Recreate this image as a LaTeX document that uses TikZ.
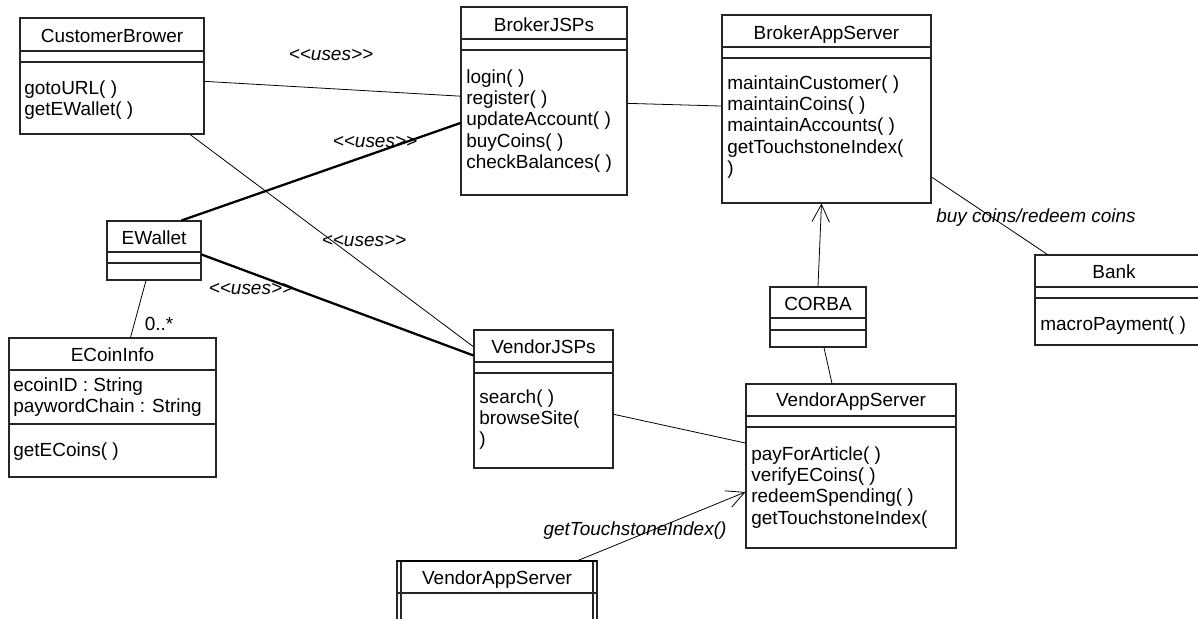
\documentclass[tikz,border=0pt]{standalone}
\usepackage{fontspec}
\setmainfont{Liberation Sans}
\usetikzlibrary{fit,calc,arrows.meta}

\begin{document}
\begin{tikzpicture}[x=0.02cm,y=-0.02cm,
  font=\fontsize{10.8}{12.1}\selectfont,
  cls/.style={draw=black!85, line width=0.6pt, inner sep=0pt},
  compline/.style={draw=black!85, line width=0.6pt},
  clsname/.style={anchor=base, inner sep=0pt},
  ops/.style={anchor=base west, align=left, inner sep=0pt},
  lbl/.style={font=\fontsize{10.8}{12.1}\selectfont\itshape, inner sep=0pt},
  link/.style={line width=0.45pt},
  uses/.style={line width=1.3pt},
  dep/.style={line width=0.45pt, -{Straight Barb[length=10pt,width=10pt]}}]

  \useasboundingbox (0,0) rectangle (1198,619);
  \clip (0,0) rectangle (1198,619);

  % CustomerBrower (ops placed at the baseline of their last line)
  \node[cls, fit={(20,18) (204,134)}] (cb) {};
  \draw[compline] (20,51) -- (204,51) (20,62) -- (204,62);
  \node[clsname] at (112,42) {CustomerBrower};
  \node[ops] at (24,115.3) {gotoURL( )\\getEWallet( )};

  % BrokerJSPs
  \node[cls, fit={(461,7) (627,195)}] (bjsp) {};
  \draw[compline] (461,39) -- (627,39) (461,50) -- (627,50);
  \node[clsname] at (544,31) {BrokerJSPs};
  \node[ops] at (466,168.4) {login( )\\register( )\\updateAccount( )\\buyCoins( )\\checkBalances( )};

  % BrokerAppServer
  \node[cls, fit={(722,15) (931,203)}] (bas) {};
  \draw[compline] (722,47) -- (931,47) (722,58) -- (931,58);
  \node[clsname] at (826.5,39) {BrokerAppServer};
  \node[ops] at (727,174.4) {maintainCustomer( )\\maintainCoins( )\\maintainAccounts( )\\getTouchstoneIndex(\\)};

  % Bank (runs off the right edge)
  \node[cls, fit={(1035,255) (1210,345)}] (bank) {};
  \draw[compline] (1035,287) -- (1210,287) (1035,298) -- (1210,298);
  \node[clsname] at (1114,278) {Bank};
  \node[ops] at (1040,330) {macroPayment( )};

  % CORBA
  \node[cls, fit={(770,287) (866,347)}] (corba) {};
  \draw[compline] (770,318) -- (866,318) (770,330) -- (866,330);
  \node[clsname] at (818,310) {CORBA};

  % EWallet
  \node[cls, fit={(107,221) (201,280)}] (ewallet) {};
  \draw[compline] (107,252) -- (201,252) (107,263) -- (201,263);
  \node[clsname] at (154,244) {EWallet};

  % ECoinInfo
  \node[cls, fit={(9,338) (216,477)}] (ecoin) {};
  \draw[compline] (9,370) -- (216,370) (9,424) -- (216,424);
  \node[clsname] at (112.5,361) {ECoinInfo};
  \node[ops] at (13,412.3) {ecoinID : String\\paywordChain : String};
  \node[ops] at (13,456) {getECoins( )};

  % VendorJSPs
  \node[cls, fit={(474,330) (613,468)}] (vjsp) {};
  \draw[compline] (474,362) -- (613,362) (474,373) -- (613,373);
  \node[clsname] at (543.5,353) {VendorJSPs};
  \node[ops] at (479,445.7) {search( )\\browseSite(\\)};

  % VendorAppServer
  \node[cls, fit={(746,384) (956,548)}] (vas) {};
  \draw[compline] (746,416) -- (956,416) (746,427) -- (956,427);
  \node[clsname] at (851,406) {VendorAppServer};
  \node[ops] at (751,524) {payForArticle( )\\verifyECoins( )\\redeemSpending( )\\getTouchstoneIndex(};

  % active VendorAppServer (cut by the bottom edge)
  \node[cls, fit={(397,561) (597,640)}] (vas2) {};
  \draw[compline] (401,561) -- (401,640) (593,561) -- (593,640) (397,593) -- (597,593);
  \draw[line width=1.3pt] (397,561) -- (597,561);
  \node[clsname] at (497,584) {VendorAppServer};

  % connectors
  \draw[link] (cb) -- (bjsp);
  \draw[link] (cb) -- (vjsp);
  \draw[link] (bjsp) -- (bas);
  \draw[link] (vjsp) -- (vas);
  \draw[uses] ($(ewallet.north west)+(75,0)$) -- ($(bjsp.west)+(0,22)$);
  \draw[uses] ($(ewallet.east)+(0,4)$) -- ($(vjsp.north west)+(0,26)$);
  \draw[link] ($(ewallet.south)+(-8,0)$) -- ($(ecoin.north)+(18,0)$);
  \draw[link] ($(bas.east)+(0,68)$) -- ($(bank.north west)+(13,0)$);
  \draw[dep] (corba.north) -- ($(bas.south)+(-5,0)$);
  \draw[link] ($(corba.south)+(6,0)$) -- ($(vas.north)+(-19,0)$);
  \draw[dep] ($(vas2.north)+(81,0)$) -- ($(vas.west)+(0,26)$);

  % labels
  \node[lbl] at (331,55) {<\kern0pt<uses>\kern0pt>};
  \node[lbl] at (375,142) {<\kern0pt<uses>\kern0pt>};
  \node[lbl] at (364,241) {<\kern0pt<uses>\kern0pt>};
  \node[lbl] at (251,289) {<\kern0pt<uses>\kern0pt>};
  \node[inner sep=0pt] at (159,324) {0..*};
  \node[lbl] at (1036,218) {buy coins/redeem coins};
  \node[lbl] at (635,531) {getTouchstoneIndex()};
\end{tikzpicture}
\end{document}
